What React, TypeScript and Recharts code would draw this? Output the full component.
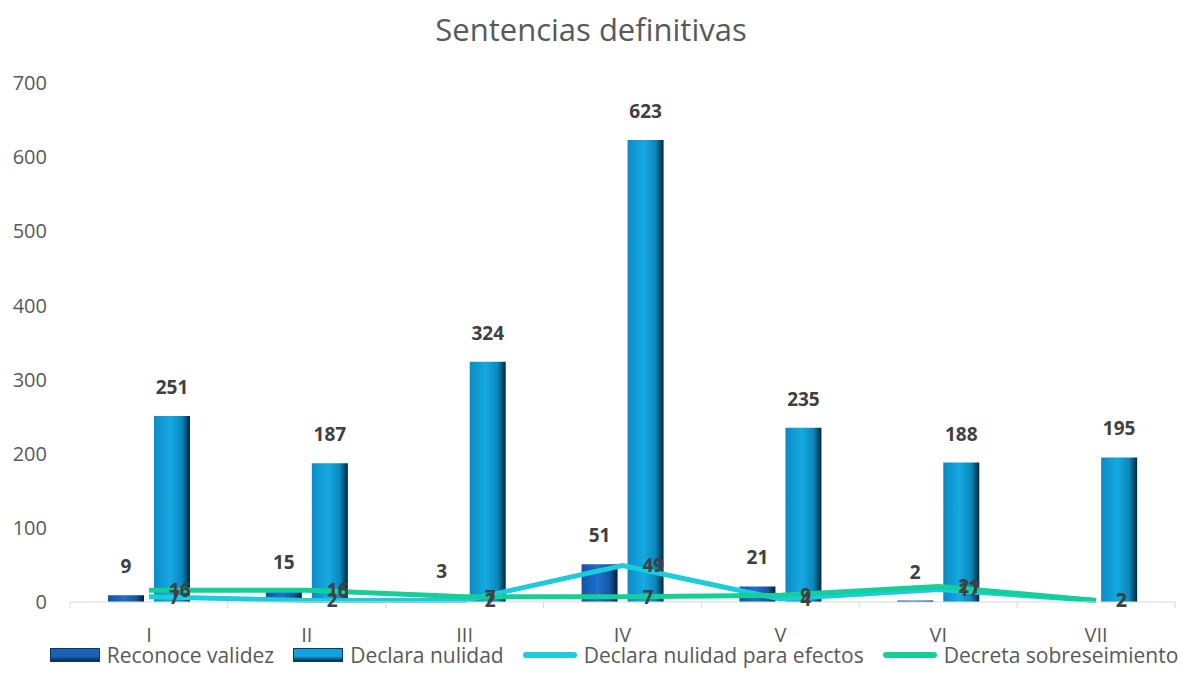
import { Bar, ComposedChart, LabelList, Line, XAxis, YAxis } from "recharts";

const categories = ["I", "II", "III", "IV", "V", "VI", "VII"];
const reconoceValidez = [9, 15, 3, 51, 21, 2, 0];
const declaraNulidad = [251, 187, 324, 623, 235, 188, 195];
const nulidadEfectos = [7, 2, 2, 49, 4, 17, 2];
const sobreseimiento = [16, 16, 7, 7, 9, 21, 2];
const yTicks = [0, 100, 200, 300, 400, 500, 600, 700];

const W = 1182;
const H = 679;
const X_HEIGHT = 30;
const MARGIN = { top: 83, right: 7, bottom: 77 - X_HEIGHT, left: 10 };
const Y_WIDTH = 60;
const BAND = (W - MARGIN.left - Y_WIDTH - MARGIN.right) / categories.length;

const GRAY = "#595959";
const LABEL = "#404040";
const CYAN = "#1ccbdc";
const GREEN = "#14cf98";
const FONT = "'Open Sans', 'Liberation Sans', sans-serif";

const data = categories.map((name, i) => ({
  name,
  reconoce: reconoceValidez[i],
  declara: declaraNulidad[i],
  efectos: nulidadEfectos[i],
  sobre: sobreseimiento[i]
}));

function CategoryTick({ x, y, payload, index }: any) {
  const half = BAND / 2;
  return (
    <g>
      <line x1={x - half} x2={x - half} y1={y} y2={y + 6} stroke="#d9d9d9" />
      {index === categories.length - 1 ? (
        <line x1={x + half} x2={x + half} y1={y} y2={y + 6} stroke="#d9d9d9" />
      ) : null}
      <text x={x} y={y + 40} textAnchor="middle" fill={GRAY} fontSize={20} fontFamily={FONT}>
        {payload.value}
      </text>
    </g>
  );
}

const legendItems = [
  { label: "Reconoce validez", kind: "bar", solid: "#1a62b8" },
  { label: "Declara nulidad", kind: "bar", solid: "#0ea3dd" },
  { label: "Declara nulidad para efectos", kind: "line", solid: CYAN },
  { label: "Decreta sobreseimiento", kind: "line", solid: GREEN }
];

function ChartLegend() {
  return (
    <div
      style={{
        position: "absolute",
        top: 641,
        left: 46,
        width: W - 46,
        display: "flex",
        justifyContent: "center",
        alignItems: "center",
        gap: 19,
        fontFamily: FONT,
        fontSize: 21,
        color: GRAY
      }}
    >
      {legendItems.map((item) => (
        <div key={item.label} style={{ display: "flex", alignItems: "center", gap: 7 }}>
          {item.kind === "bar" ? (
            <div
              style={{
                width: 48,
                height: 12,
                background: `linear-gradient(to bottom, ${item.solid}, ${item.solid} 60%, #0a2a4a)`,
                border: "1px solid #0a3a66"
              }}
            />
          ) : (
            <div style={{ width: 54, height: 6, borderRadius: 3, background: item.solid }} />
          )}
          <span>{item.label}</span>
        </div>
      ))}
    </div>
  );
}

const barLabel = { position: "top" as const, offset: 22, fill: LABEL, fontSize: 19, fontWeight: 700, fontFamily: FONT };
const lineLabel = { position: "right" as const, offset: 20, fill: LABEL, fontSize: 19, fontWeight: 700, fontFamily: FONT };

export default function App() {
  return (
    <div style={{ position: "absolute", left: 0, top: 0, width: W, height: H, background: "#fff" }}>
      <div
        style={{
          position: "absolute",
          top: 8,
          width: W,
          textAlign: "center",
          fontFamily: FONT,
          fontSize: 31,
          color: GRAY
        }}
      >
        Sentencias definitivas
      </div>
      <ComposedChart width={W} height={H} data={data} margin={MARGIN} barGap={10} barSize={36}>
        <defs>
          <linearGradient id="gradDeclara" x1="0" x2="1" y1="0" y2="0">
            <stop offset="0%" stopColor="#0a8cc6" />
            <stop offset="45%" stopColor="#16a9e2" />
            <stop offset="78%" stopColor="#0b87bb" />
            <stop offset="100%" stopColor="#02263a" />
          </linearGradient>
          <linearGradient id="gradReconoce" x1="0" x2="1" y1="0" y2="0">
            <stop offset="0%" stopColor="#1553a3" />
            <stop offset="45%" stopColor="#1f6fcf" />
            <stop offset="78%" stopColor="#15569f" />
            <stop offset="100%" stopColor="#071f40" />
          </linearGradient>
        </defs>
        <XAxis
          dataKey="name"
          height={X_HEIGHT}
          axisLine={{ stroke: "#d9d9d9" }}
          tickLine={false}
          tickSize={0}
          tickMargin={0}
          tick={<CategoryTick />}
          interval={0}
        />
        <YAxis
          width={Y_WIDTH}
          domain={[0, 700]}
          ticks={yTicks}
          axisLine={false}
          tickLine={false}
          tickSize={0}
          tickMargin={23}
          tick={{ fill: GRAY, fontSize: 20, fontFamily: FONT }}
        />
        <Bar dataKey="reconoce" name="Reconoce validez" fill="url(#gradReconoce)" isAnimationActive={false}>
          <LabelList dataKey="reconoce" {...barLabel} />
        </Bar>
        <Bar dataKey="declara" name="Declara nulidad" fill="url(#gradDeclara)" isAnimationActive={false}>
          <LabelList dataKey="declara" {...barLabel} />
        </Bar>
        <Line
          dataKey="efectos"
          name="Declara nulidad para efectos"
          stroke={CYAN}
          strokeWidth={5}
          dot={false}
          type="linear"
          isAnimationActive={false}
        >
          <LabelList dataKey="efectos" {...lineLabel} />
        </Line>
        <Line
          dataKey="sobre"
          name="Decreta sobreseimiento"
          stroke={GREEN}
          strokeWidth={5}
          dot={false}
          type="linear"
          isAnimationActive={false}
        >
          <LabelList dataKey="sobre" {...lineLabel} />
        </Line>
      </ComposedChart>
      <ChartLegend />
    </div>
  );
}
